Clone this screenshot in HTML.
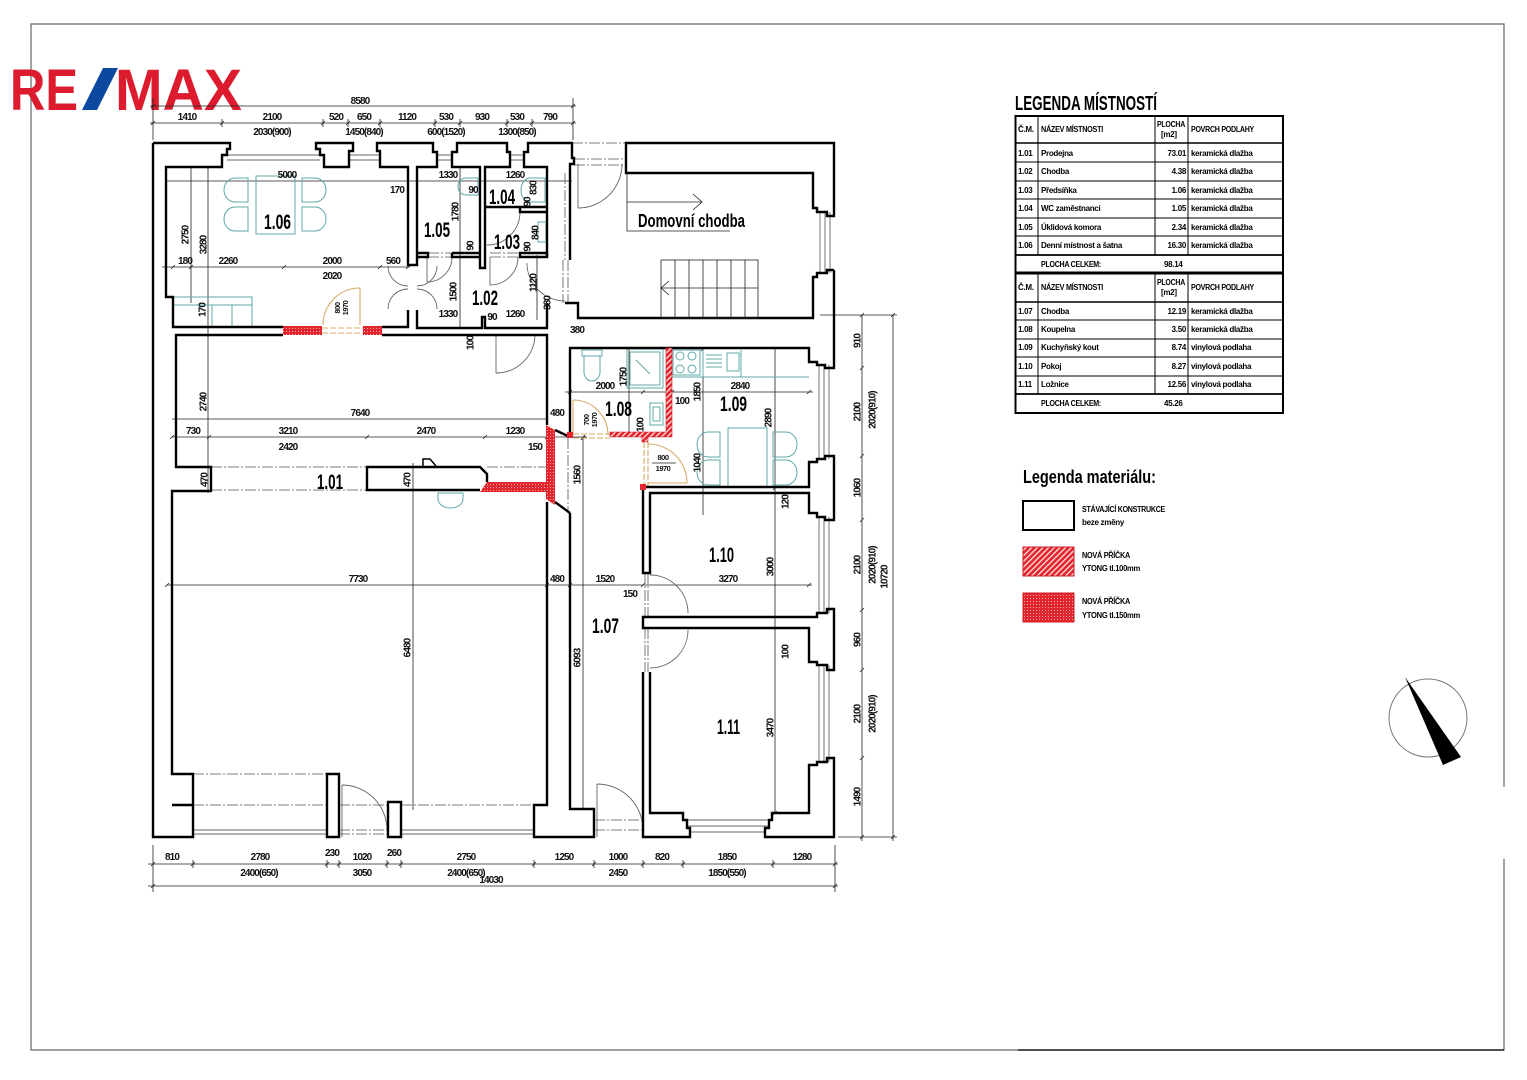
<!DOCTYPE html>
<html><head><meta charset="utf-8">
<style>
html,body{margin:0;padding:0;background:#fff;}
svg{display:block;}
text{font-family:"Liberation Sans","DejaVu Sans",sans-serif;}
.d{font-size:10px;font-weight:bold;letter-spacing:-0.9px;fill:#111;text-anchor:middle;}
.ds{font-size:7.5px;font-weight:bold;letter-spacing:-0.5px;fill:#111;text-anchor:middle;}
.w{fill:none;stroke:#000;stroke-width:2.4;stroke-linejoin:miter;}
.t{fill:none;stroke:#222;stroke-width:0.8;}
.g{fill:none;stroke:#666;stroke-width:0.9;}
.dd{fill:none;stroke:#555;stroke-width:0.8;stroke-dasharray:11 2 2 2;}
.f{fill:none;stroke:#5fa9aa;stroke-width:1;}
.tan{fill:none;stroke:#d7ad6a;stroke-width:1.1;}
.rl{font-size:21px;font-weight:bold;fill:#000;}
.tb{font-size:8px;font-weight:bold;letter-spacing:-0.3px;fill:#000;}
.tn{font-size:8px;font-weight:bold;letter-spacing:-0.3px;fill:#000;text-anchor:end;}
</style></head><body>
<svg xmlns="http://www.w3.org/2000/svg" width="1527" height="1080" viewBox="0 0 1527 1080">
<defs>
<pattern id="dots" width="3" height="3" patternUnits="userSpaceOnUse"><rect width="3" height="3" fill="#e3262d"/><rect x="1" y="1" width="1" height="1" fill="#f7a8a8"/></pattern>
<pattern id="hatch" width="4" height="4" patternUnits="userSpaceOnUse" patternTransform="rotate(45)"><rect width="4" height="4" fill="#e3262d"/><rect x="0" y="0" width="1.3" height="4" fill="#fde4e4"/></pattern>
</defs>
<rect width="1527" height="1080" fill="#fff"/>

<!-- page border -->
<path d="M1504,787 V24 H31 V1050 H1504 V859" fill="none" stroke="#666" stroke-width="1.2"/>
<path d="M1018,1050 H1504" stroke="#222" stroke-width="1.4"/>

<!-- logo -->
<text x="10" y="110" font-size="58" font-weight="bold" fill="#dc1c2e" textLength="68" lengthAdjust="spacingAndGlyphs">RE</text>
<polygon points="82,110 97,110 118,68 103,68" fill="#0c47a0"/>
<text x="115" y="110" font-size="58" font-weight="bold" fill="#dc1c2e" textLength="127" lengthAdjust="spacingAndGlyphs">MAX</text>

<!-- ===== dimension lines ===== -->
<g class="t">
<path d="M150,106 H576 M150,123 H576 M153,98 V140 M573,98 V140"/>
<path d="M222,119 V127 M323,119 V127 M348,119 V127 M380,119 V127 M435,119 V127 M460,119 V127 M507,119 V127 M532,119 V127"/>
<path d="M151,108 L155,104 M571,108 L575,104 M151,125 L155,121 M220,125 L224,121 M321,125 L325,121 M346,125 L350,121 M378,125 L382,121 M433,125 L437,121 M458,125 L462,121 M505,125 L509,121 M530,125 L534,121 M571,125 L575,121"/>
<path d="M191,167 V303 M208,167 V493 M166,181 H572 M162,267 H410"/>
<path d="M171,269 L175,265 M189,269 L193,265 M282,269 L286,265 M378,269 L382,265 M406,269 L410,265"/>
<path d="M460,167 V328 M537,255 V320"/>
<path d="M172,419 H548 M172,437 H587 M413,463 V810 M167,585 H812"/>
<path d="M207,439 L211,435 M365,439 L369,435 M483,439 L487,435 M545,439 L549,435 M581,439 L585,435 M170,439 L174,435"/>
<path d="M165,587 L169,583 M545,587 L549,583 M568,587 L572,583 M641,587 L645,583 M807,587 L811,583"/>
<path d="M583,438 V809 M581,440 L585,436"/>
<path d="M565,392 H813 M629,348 V435 M703,348 V515 M775,348 V813"/>
<path d="M568,394 L572,390 M641,394 L645,390 M670,394 L674,390 M807,394 L811,390 M701,351 L705,347 M773,490 L777,486 M773,815 L777,811"/>
<path d="M820,315 H897 M838,837 H897 M862,315 V841 M893,315 V841"/>
<path d="M860,317 L864,313 M860,370 L864,366 M860,458 L864,454 M860,522 L864,518 M860,612 L864,608 M860,672 L864,668 M860,760 L864,756 M860,839 L864,835 M891,317 L895,313 M891,839 L895,835"/>
<path d="M148,864 H838 M148,886 H838 M153,845 V892 M835,845 V892"/>
<path d="M151,866 L155,862 M191,866 L195,862 M325,866 L329,862 M337,866 L341,862 M385,866 L389,862 M399,866 L403,862 M532,866 L536,862 M592,866 L596,862 M641,866 L645,862 M681,866 L685,862 M771,866 L775,862 M833,866 L837,862 M151,888 L155,884 M833,888 L837,884"/>
<path d="M193,860 V868 M327,860 V868 M339,860 V868 M387,860 V868 M401,860 V868 M534,860 V868 M594,860 V868 M643,860 V868 M683,860 V868 M773,860 V868"/>
</g>

<!-- ===== furniture (teal) ===== -->
<g class="f">
<rect x="256" y="176" width="39" height="58"/>
<path d="M248,178 H235 A11,12 0 0 0 235,202 H248 Z"/>
<path d="M248,207 H235 A11,12 0 0 0 235,231 H248 Z"/>
<path d="M302,178 H315 A11,12 0 0 1 315,202 H302 Z"/>
<path d="M302,207 H315 A11,12 0 0 1 315,231 H302 Z"/>
<path d="M174,297 H252 V327 M174,305 H252 M212,305 V327 M232,305 V327"/>
<path d="M478,178 H466 A8,8.5 0 0 0 466,195 H478 Z"/>
<path d="M530,178 A9,12 0 0 0 530,202 H545 V178 Z"/>
<rect x="538" y="222" width="8" height="20"/>
<path d="M438,493 H463 V499 A12.5,9 0 0 1 438,499 Z"/>
<path d="M582,350 H602 V356 H582 Z M584,356 V372 A8,9 0 0 0 600,372 V356"/>
<rect x="627" y="349" width="36" height="39"/><rect x="630" y="352" width="30" height="33"/><path d="M636,360 L650,374"/>
<rect x="650" y="403" width="13" height="22"/><rect x="653" y="407" width="7" height="14"/>
<rect x="673" y="350" width="27" height="25"/>
<circle cx="680" cy="356" r="4"/><circle cx="692" cy="356" r="4"/><circle cx="680" cy="369" r="4"/><circle cx="692" cy="369" r="4"/>
<path d="M706,355 H722 M706,359 H722 M706,363 H722 M706,367 H722"/><rect x="727" y="353" width="12" height="18"/>
<path d="M672,377 H809 M703,350 V377 M741,350 V377"/>
<rect x="728" y="428" width="39" height="59"/>
<path d="M720,432 H708 A11,12.5 0 0 0 708,457 H720 Z"/>
<path d="M720,460 H708 A11,12.5 0 0 0 708,485 H720 Z"/>
<path d="M773,432 H786 A11,12.5 0 0 1 786,457 H773 Z"/>
<path d="M773,460 H786 A11,12.5 0 0 1 786,485 H773 Z"/>
</g>

<!-- ===== thin window / door lines ===== -->
<g class="g">
<path d="M227,155 H320 M227,160 H320 M349,155 H380 M349,160 H380 M437,155 H452 M437,160 H452 M510,155 H524 M510,160 H524"/>
<path d="M820,212 V273 M825,212 V273 M830,212 V273"/>
<path d="M819,365 V459 M824,365 V459 M829,365 V459"/>
<path d="M819,517 V613 M824,517 V613 M829,517 V613"/>
<path d="M819,665 V762 M824,665 V762 M829,665 V762"/>
<path d="M687,820 H769 M687,826 H769 M690,832 H765"/>
<path d="M193,830 H327 M193,834 H327 M401,830 H534 M401,834 H534"/>
<path d="M342,785 V837 M342,785 A45,45 0 0 1 387,830"/>
<path d="M597,784 V837 M597,784 A46,46 0 0 1 643,830"/>
<path d="M578,164 V208 M578,208 A44,44 0 0 0 622,164"/>
<path d="M527,263 A38,38 0 0 0 565,301"/>
<path d="M388,266 A20,20 0 0 0 408,286 M388,309 A20,20 0 0 1 408,289 M437,266 A20,20 0 0 1 417,286 M437,309 A20,20 0 0 0 417,289"/>
<path d="M490,257 V285 A28,28 0 0 0 518,257"/>
<path d="M520,212 A33,33 0 0 1 487,245"/>
<path d="M427,257 V282 M452,257 A25,25 0 0 1 427,282"/>
<path d="M496,335 V373 M496,373 A39,39 0 0 0 535,335"/>
<path d="M650,575 A38,38 0 0 1 688,613"/>
<path d="M688,630 A38,38 0 0 1 650,668"/>
</g>
<g class="dd">
<path d="M572,143 H626 M574,159 H626 M574,165 H626"/>
<path d="M193,774 H327 M193,805 H327 M339,805 H388 M401,805 H534 M339,830 H388 M339,834 H388 M594,820 H643 M594,830 H643"/>
<path d="M211,467 H367 M211,490 H367 M487,467 H547 M568,438 V513"/>
<path d="M563,260 V303 M568,260 V303 M428,253 H452 M428,257 H452 M490,253 H520 M490,257 H520"/>
<path d="M645,573 V617 M648,573 V617 M645,628 V672 M648,628 V672"/>
<path d="M565,173 V260"/>
</g>
<g class="tan">
<path d="M360,288 V325 M323,325 A37,37 0 0 1 360,288"/>
<path d="M322,328 H363 M322,333 H363" stroke-dasharray="6 2"/>
<path d="M573,400 V435 M573,400 A35,35 0 0 1 608,435"/>
<path d="M573,434 H610 M573,438 H610" stroke-dasharray="6 2"/>
<path d="M648,483 H687 M687,483 A39,39 0 0 0 648,444"/>
<path d="M644,442 V487 M648,442 V487" stroke-dasharray="6 2"/>
</g>

<!-- ===== walls ===== -->
<g class="w">
<path d="M153,143 V837 H193 V774 H172 V491 H211 V467 H176 V335 H283"/>
<path d="M172,805 H193"/>
<path d="M153,143 H230 V149 H227 V155 H222 V167 H166 V297 H173 V327 H283"/>
<path d="M316,143 H353 V151 H349 V167 H324 V155 H320 V149 H316 Z"/>
<path d="M377,143 H433 V152 H437 V167 H417 V265 H408 V167 H380 V151 H377 Z"/>
<path d="M452,253 H480 V167 H452 V152 H457 V143 H507 V152 H510 V167 H485 V268 H480 V253"/>
<path d="M547,257 V167 H524 V152 H528 V143 H572 V158 H574 V164 H570 V260"/>
<path d="M485,207 H547 M520,207 V212 H547"/>
<path d="M417,253 H428 V257 H417"/>
<path d="M452,253 V257 H480"/>
<path d="M520,253 H547 V257 H520 Z"/>
<path d="M408,310 V327 H382"/>
<path d="M417,310 V328 H482 V317 H485 V328 H547 V303"/>
<path d="M382,335 H547 V425"/>
<path d="M626,143 H834 V216 H827 V212 H817 V208 H813 V173 H626 Z"/>
<path d="M834,270 H827 V273 H817 V277 H813 V318 H578 V303 H565"/>
<path d="M834,270 V368 H825 V365 H817 V362 H809 V348 H570 V435"/>
<path d="M834,456 H825 V459 H817 V462 H809 V487 H643 V573 H650 V493 H809 V513 H817 V517 H825 V520 H834 Z"/>
<path d="M834,609 H827 V613 H817 V617 H643 V628 H809 V662 H817 V665 H827 V670 H834 Z"/>
<path d="M834,758 H827 V762 H817 V765 H809 V813 H772 V820 H769 V828 H765 V837 H834 Z"/>
<path d="M650,672 V813 H683 V820 H687 V828 H690 V837 H643 V672"/>
<path d="M547,502 V805 H534 V837 H594 V809 H570 V513"/>
<path d="M555,430 L570,437 M555,502 L570,513"/>
<path d="M327,774 H339 V837 H327 Z M388,802 H401 V837 H388 Z"/>
<path d="M487,482 V474 L480,467 H367 V490 H480"/>
<path d="M423,467 V459 H430 L436,466" stroke-width="1.5"/>
</g>

<!-- red new walls -->
<path d="M546,425 L555,430 L555,505 L546,499 V492 H480 L487,482 H546 Z" fill="url(#dots)"/>
<rect x="283" y="326" width="39" height="9" fill="url(#dots)"/>
<rect x="363" y="326" width="19" height="9" fill="url(#dots)"/>
<path d="M666,348 H672 V437 H648 V442 H642 V437 H610 V432 H666 Z" fill="url(#hatch)" stroke="#d01c22" stroke-width="0.6"/>
<rect x="567" y="432" width="6" height="6" fill="#e3262d"/>
<rect x="640" y="484" width="6" height="6" fill="#e3262d"/>

<!-- stairs + chodba -->
<g class="t" stroke-width="1">
<rect x="661" y="260" width="97" height="58"/>
<path d="M675,260 V318 M689,260 V318 M703,260 V318 M717,260 V318 M731,260 V318 M745,260 V318 M661,288 H758 M669,281 L661,288 L669,295"/>
<path d="M627,173 V231 H730 M627,202 H702 M693,194 L702,202 L693,210"/>
</g>
<text x="638" y="227" font-size="18" font-weight="bold" textLength="107" lengthAdjust="spacingAndGlyphs">Domovní chodba</text>

<!-- ===== dimension texts ===== -->
<g class="d">
<text x="360" y="104">8580</text>
<text x="187" y="120">1410</text><text x="272" y="120">2100</text><text x="336" y="120">520</text><text x="364" y="120">650</text><text x="407" y="120">1120</text><text x="446" y="120">530</text><text x="482" y="120">930</text><text x="517" y="120">530</text><text x="550" y="120">790</text>
<text x="272" y="135">2030(900)</text><text x="364" y="135">1450(840)</text><text x="446" y="135">600(1520)</text><text x="517" y="135">1300(850)</text>
<text x="287" y="178">5000</text><text x="397" y="193">170</text>
<text x="185" y="264">180</text><text x="228" y="264">2260</text><text x="332" y="264">2000</text><text x="393" y="264">560</text><text x="332" y="279">2020</text>
<text x="448" y="178">1330</text><text x="473" y="193">90</text><text x="448" y="317">1330</text>
<text x="515" y="178">1260</text><text x="515" y="317">1260</text><text x="492" y="320">90</text><text x="577" y="333">380</text>
<text x="360" y="416">7640</text><text x="557" y="416">480</text>
<text x="193" y="434">730</text><text x="288" y="434">3210</text><text x="426" y="434">2470</text><text x="515" y="434">1230</text>
<text x="288" y="450">2420</text><text x="535" y="450">150</text>
<text x="358" y="582">7730</text><text x="557" y="582">480</text><text x="605" y="582">1520</text><text x="728" y="582">3270</text><text x="630" y="597">150</text>
<text x="605" y="389">2000</text><text x="740" y="389">2840</text><text x="682" y="404">100</text>
<text x="172" y="860">810</text><text x="260" y="860">2780</text><text x="332" y="856">230</text><text x="362" y="860">1020</text><text x="394" y="856">260</text><text x="466" y="860">2750</text><text x="564" y="860">1250</text><text x="618" y="860">1000</text><text x="662" y="860">820</text><text x="727" y="860">1850</text><text x="802" y="860">1280</text>
<text x="259" y="876">2400(650)</text><text x="362" y="876">3050</text><text x="466" y="876">2400(650)</text><text x="491" y="883">14030</text><text x="618" y="876">2450</text><text x="727" y="876">1850(550)</text>
</g>
<g class="d">
<text transform="translate(185,235) rotate(-90)" dy="3.5">2750</text>
<text transform="translate(203,245) rotate(-90)" dy="3.5">3280</text>
<text transform="translate(202,310) rotate(-90)" dy="3.5">170</text>
<text transform="translate(455,212) rotate(-90)" dy="3.5">1780</text>
<text transform="translate(470,246) rotate(-90)" dy="3.5">90</text>
<text transform="translate(453,292) rotate(-90)" dy="3.5">1500</text>
<text transform="translate(533,188) rotate(-90)" dy="3.5">830</text>
<text transform="translate(527,202) rotate(-90)" dy="3.5">90</text>
<text transform="translate(535,233) rotate(-90)" dy="3.5">840</text>
<text transform="translate(527,247) rotate(-90)" dy="3.5">90</text>
<text transform="translate(533,283) rotate(-90)" dy="3.5">1120</text>
<text transform="translate(547,303) rotate(-90)" dy="3.5">380</text>
<text transform="translate(470,343) rotate(-90)" dy="3.5">100</text>
<text transform="translate(203,402) rotate(-90)" dy="3.5">2740</text>
<text transform="translate(204,480) rotate(-90)" dy="3.5">470</text>
<text transform="translate(407,480) rotate(-90)" dy="3.5">470</text>
<text transform="translate(407,648) rotate(-90)" dy="3.5">6480</text>
<text transform="translate(577,475) rotate(-90)" dy="3.5">1560</text>
<text transform="translate(577,658) rotate(-90)" dy="3.5">6093</text>
<text transform="translate(623,377) rotate(-90)" dy="3.5">1750</text>
<text transform="translate(640,425) rotate(-90)" dy="3.5">100</text>
<text transform="translate(697,392) rotate(-90)" dy="3.5">1850</text>
<text transform="translate(768,418) rotate(-90)" dy="3.5">2890</text>
<text transform="translate(697,463) rotate(-90)" dy="3.5">1040</text>
<text transform="translate(785,502) rotate(-90)" dy="3.5">120</text>
<text transform="translate(770,567) rotate(-90)" dy="3.5">3000</text>
<text transform="translate(785,652) rotate(-90)" dy="3.5">100</text>
<text transform="translate(770,728) rotate(-90)" dy="3.5">3470</text>
<text transform="translate(857,341) rotate(-90)" dy="3.5">910</text>
<text transform="translate(857,412) rotate(-90)" dy="3.5">2100</text>
<text transform="translate(872,410) rotate(-90)" dy="3.5">2020(910)</text>
<text transform="translate(857,488) rotate(-90)" dy="3.5">1060</text>
<text transform="translate(857,565) rotate(-90)" dy="3.5">2100</text>
<text transform="translate(872,565) rotate(-90)" dy="3.5">2020(910)</text>
<text transform="translate(884,577) rotate(-90)" dy="3.5">10720</text>
<text transform="translate(857,640) rotate(-90)" dy="3.5">960</text>
<text transform="translate(857,714) rotate(-90)" dy="3.5">2100</text>
<text transform="translate(872,714) rotate(-90)" dy="3.5">2020(910)</text>
<text transform="translate(857,797) rotate(-90)" dy="3.5">1490</text>
</g>
<g class="ds">
<text transform="translate(337,308) rotate(-90)" dy="3">800</text>
<text transform="translate(345,308) rotate(-90)" dy="3">1970</text>
<text transform="translate(586,420) rotate(-90)" dy="3">700</text>
<text transform="translate(594,420) rotate(-90)" dy="3">1970</text>
<text x="663" y="460">800</text>
<text x="663" y="471">1970</text>
</g>
<path d="M652,463 H676" class="t"/>

<!-- room labels -->
<g class="rl">
<text x="264" y="229" textLength="27" lengthAdjust="spacingAndGlyphs">1.06</text>
<text x="424" y="237" textLength="26" lengthAdjust="spacingAndGlyphs">1.05</text>
<text x="489" y="204" textLength="26" lengthAdjust="spacingAndGlyphs">1.04</text>
<text x="494" y="249" textLength="26" lengthAdjust="spacingAndGlyphs">1.03</text>
<text x="472" y="305" textLength="26" lengthAdjust="spacingAndGlyphs">1.02</text>
<text x="317" y="489" textLength="26" lengthAdjust="spacingAndGlyphs">1.01</text>
<text x="592" y="633" textLength="27" lengthAdjust="spacingAndGlyphs">1.07</text>
<text x="605" y="416" textLength="27" lengthAdjust="spacingAndGlyphs">1.08</text>
<text x="720" y="411" textLength="27" lengthAdjust="spacingAndGlyphs">1.09</text>
<text x="709" y="562" textLength="25" lengthAdjust="spacingAndGlyphs">1.10</text>
<text x="717" y="734" textLength="23" lengthAdjust="spacingAndGlyphs">1.11</text>
</g>

<!-- ===== room legend table ===== -->
<text x="1015" y="110" font-size="20" font-weight="bold" textLength="142" lengthAdjust="spacingAndGlyphs">LEGENDA MÍSTNOSTÍ</text>
<rect x="1015.5" y="116" width="267.5" height="297" fill="none" stroke="#000" stroke-width="2"/>
<g stroke="#000" fill="none">
<path d="M1015,143 H1283 M1015,302 H1283" stroke-width="1.5"/>
<path d="M1015,162 H1283 M1015,181 H1283 M1015,199 H1283 M1015,218 H1283 M1015,236 H1283 M1015,320 H1283 M1015,339 H1283 M1015,357 H1283 M1015,376 H1283" stroke-width="1"/>
<path d="M1015,255 H1283 M1015,394 H1283" stroke-width="1.8"/>
<path d="M1015,273 H1283" stroke-width="3"/>
<path d="M1038,116 V255 M1155,116 V255 M1188,116 V255 M1038,274 V394 M1155,274 V394 M1188,274 V394" stroke-width="1"/>
</g>
<g class="tb">
<text x="1018" y="132">Č.M.</text><text x="1041" y="132" textLength="62" lengthAdjust="spacingAndGlyphs">NÁZEV MÍSTNOSTI</text>
<text x="1157" y="127" textLength="28" lengthAdjust="spacingAndGlyphs">PLOCHA</text><text x="1161" y="137">[m2]</text>
<text x="1191" y="132" textLength="63" lengthAdjust="spacingAndGlyphs">POVRCH PODLAHY</text>
<text x="1018" y="156">1.01</text><text x="1041" y="156">Prodejna</text><text x="1191" y="156">keramická dlažba</text>
<text x="1018" y="174">1.02</text><text x="1041" y="174">Chodba</text><text x="1191" y="174">keramická dlažba</text>
<text x="1018" y="193">1.03</text><text x="1041" y="193">Předsíňka</text><text x="1191" y="193">keramická dlažba</text>
<text x="1018" y="211">1.04</text><text x="1041" y="211">WC zaměstnanci</text><text x="1191" y="211">keramická dlažba</text>
<text x="1018" y="230">1.05</text><text x="1041" y="230">Úklidová komora</text><text x="1191" y="230">keramická dlažba</text>
<text x="1018" y="248">1.06</text><text x="1041" y="248">Denní místnost a šatna</text><text x="1191" y="248">keramická dlažba</text>
<text x="1041" y="267" textLength="60" lengthAdjust="spacingAndGlyphs">PLOCHA CELKEM:</text><text x="1164" y="267">98.14</text>
<text x="1018" y="290">Č.M.</text><text x="1041" y="290" textLength="62" lengthAdjust="spacingAndGlyphs">NÁZEV MÍSTNOSTI</text>
<text x="1157" y="285" textLength="28" lengthAdjust="spacingAndGlyphs">PLOCHA</text><text x="1161" y="295">[m2]</text>
<text x="1191" y="290" textLength="63" lengthAdjust="spacingAndGlyphs">POVRCH PODLAHY</text>
<text x="1018" y="314">1.07</text><text x="1041" y="314">Chodba</text><text x="1191" y="314">keramická dlažba</text>
<text x="1018" y="332">1.08</text><text x="1041" y="332">Koupelna</text><text x="1191" y="332">keramická dlažba</text>
<text x="1018" y="350">1.09</text><text x="1041" y="350">Kuchyňský kout</text><text x="1191" y="350">vinylová podlaha</text>
<text x="1018" y="369">1.10</text><text x="1041" y="369">Pokoj</text><text x="1191" y="369">vinylová podlaha</text>
<text x="1018" y="387">1.11</text><text x="1041" y="387">Ložnice</text><text x="1191" y="387">vinylová podlaha</text>
<text x="1041" y="406" textLength="60" lengthAdjust="spacingAndGlyphs">PLOCHA CELKEM:</text><text x="1164" y="406">45.26</text>
</g>
<g class="tn">
<text x="1186" y="156">73.01</text><text x="1186" y="174">4.38</text><text x="1186" y="193">1.06</text><text x="1186" y="211">1.05</text><text x="1186" y="230">2.34</text><text x="1186" y="248">16.30</text>
<text x="1186" y="314">12.19</text><text x="1186" y="332">3.50</text><text x="1186" y="350">8.74</text><text x="1186" y="369">8.27</text><text x="1186" y="387">12.56</text>
</g>

<!-- ===== material legend ===== -->
<text x="1023" y="483" font-size="18" font-weight="bold" textLength="133" lengthAdjust="spacingAndGlyphs">Legenda materiálu:</text>
<rect x="1023" y="501" width="51" height="29" fill="none" stroke="#000" stroke-width="2"/>
<rect x="1023" y="547" width="51" height="29" fill="url(#hatch)" stroke="#d01c22" stroke-width="1"/>
<rect x="1023" y="593" width="51" height="29" fill="url(#dots)" stroke="#d01c22" stroke-width="1"/>
<g class="tb">
<text x="1082" y="512" textLength="83" lengthAdjust="spacingAndGlyphs">STÁVAJÍCÍ KONSTRUKCE</text>
<text x="1082" y="525" textLength="42" lengthAdjust="spacingAndGlyphs">beze změny</text>
<text x="1082" y="558" textLength="48" lengthAdjust="spacingAndGlyphs">NOVÁ PŘÍČKA</text>
<text x="1082" y="571" textLength="58" lengthAdjust="spacingAndGlyphs">YTONG tl.100mm</text>
<text x="1082" y="604" textLength="48" lengthAdjust="spacingAndGlyphs">NOVÁ PŘÍČKA</text>
<text x="1082" y="618" textLength="58" lengthAdjust="spacingAndGlyphs">YTONG tl.150mm</text>
</g>

<!-- north arrow -->
<circle cx="1428" cy="718" r="39" fill="none" stroke="#777" stroke-width="1"/>
<polygon points="1405,677 1461,757 1443,765" fill="#000"/>
</svg>
</body></html>
